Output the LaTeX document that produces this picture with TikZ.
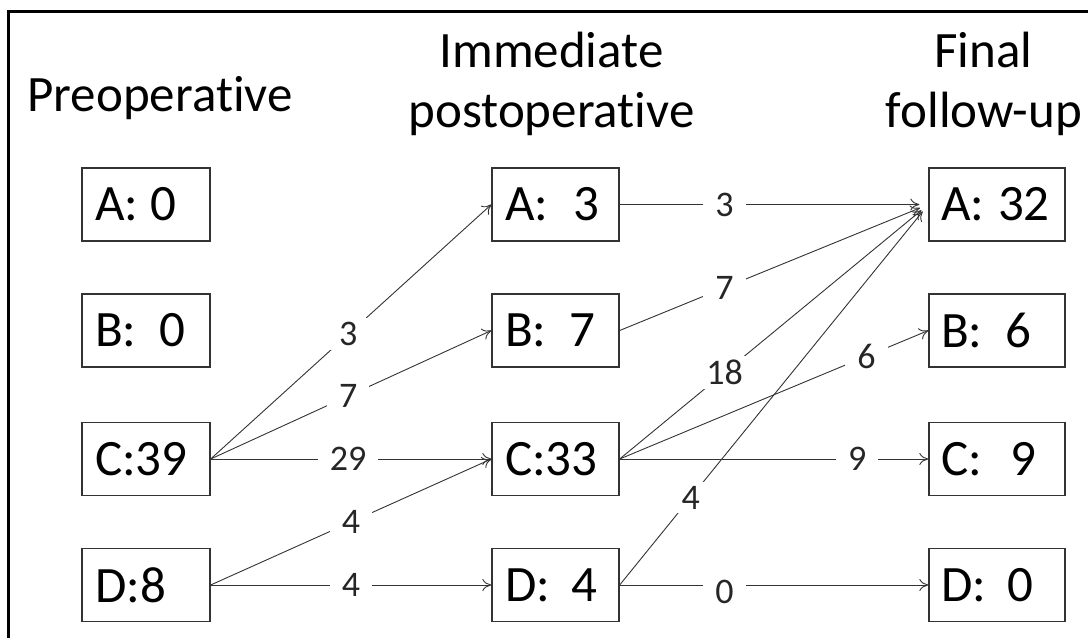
\documentclass[tikz,border=0pt]{standalone}
\usepackage{fontspec}
\setmainfont[Ligatures=NoCommon]{Carlito}
\usetikzlibrary{arrows.meta}
\newcommand{\lbl}[3]{\makebox[#2pt][l]{#1}#3}
\begin{document}
\begin{tikzpicture}[x=1pt,y=-1pt,
  box/.style={draw=black!80,line width=1.3pt,minimum height=73pt,
    inner xsep=13pt,inner ysep=0pt,align=left,font=\fontsize{51}{58}\selectfont},
  lbox/.style={box,minimum width=128pt,text width=102pt},
  mbox/.style={box,minimum width=127pt,text width=101pt},
  rbox/.style={box,minimum width=136pt,text width=112pt,inner xsep=11pt},
  title/.style={align=center,font=\fontsize{51}{60}\selectfont,anchor=base},
  flow/.style={draw=black!80,line width=0.9pt,-{To[length=9pt,width=12pt]}},
  toA/.style={flow,shorten >=9pt},
  lab/.style={fill=white,inner xsep=12pt,inner ysep=4pt,font=\fontsize{36}{40}\selectfont,text=black!85}]
\useasboundingbox (0,0) rectangle (1088,638);
\draw[line width=3pt] (8.5,638) -- (8.5,11) -- (1088,11);
% titles
\node[title] (tpre) at (160,111) {Preoperative};
\node[title] (timm1) at (551.5,67) {Immediate};
\node[title] (timm2) at (551.5,127) {postoperative};
\node[title] (tfin1) at (983.5,67) {Final};
\node[title] (tfin2) at (984,127) {follow-up};
% left column
\node[lbox] (LA) at (146,204.5) {\lbl{A:}{55}{0}};
\node[lbox] (LB) at (146,330.5) {\lbl{B:}{65}{0}};
\node[lbox] (LC) at (146,459) {\mbox{C:39}};
\node[lbox] (LD) at (146,585) {\mbox{D:8}};
% middle column
\node[mbox] (MA) at (555.5,204.5) {\lbl{A:}{68}{3}};
\node[mbox] (MB) at (555.5,330.5) {\lbl{B:}{65}{7}};
\node[mbox] (MC) at (555.5,459) {\mbox{C:33}};
\node[mbox] (MD) at (555.5,585) {\lbl{D:}{67}{4}};
% right column
\node[rbox] (RA) at (997,204.5) {\lbl{A:}{57}{32}};
\node[rbox] (RB) at (997,330.5) {\lbl{B:}{64}{6}};
\node[rbox] (RC) at (997,459) {\lbl{C:}{69}{9}};
\node[rbox] (RD) at (997,585) {\lbl{D:}{66}{0}};
% left to middle
\draw[flow] (LC.east) -- node[lab,pos=0.49] {3} (MA.west);
\draw[flow] (LC.east) -- node[lab,pos=0.49] {7} (MB.west);
\draw[flow] (LC.east) -- node[lab,pos=0.49] {29} (MC.west);
\draw[flow] (LD.east) -- node[lab,pos=0.5] {4} (MC.west);
\draw[flow] (LD.east) -- node[lab,pos=0.5] {4} (MD.west);
% middle to right
\draw[toA] (MA.east) -- node[lab,pos=0.34] {3} (RA.west);
\draw[toA] (MB.east) -- node[lab,pos=0.34] {7} (RA.west);
\draw[toA] (MC.east) -- node[lab,pos=0.34] {18} (RA.west);
\draw[flow] (MC.east) -- node[lab,pos=0.8] {6} (RB.west);
\draw[flow] (MC.east) -- node[lab,pos=0.77] {9} (RC.west);
\draw[toA] (MD.east) -- node[lab,pos=0.23] {4} (RA.west);
\draw[flow] (MD.east) -- node[lab,pos=0.34,yshift=-7pt] {0} (RD.west);
\end{tikzpicture}
\end{document}
